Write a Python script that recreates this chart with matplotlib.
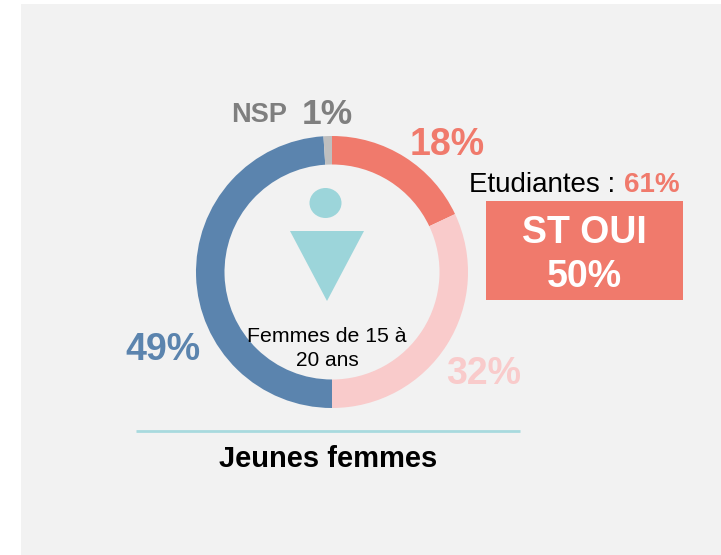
import matplotlib
matplotlib.use("Agg")
import matplotlib.pyplot as plt
from matplotlib.patches import Ellipse, Polygon, Rectangle

plt.rcParams['font.family'] = ['Liberation Sans', 'DejaVu Sans']

# Data
labels = ["18%", "32%", "49%", "1%"]
values = [18, 32, 49, 1]
colors = ["#F07A6C", "#F9CBCB", "#5B84AE", "#BFBFBF"]

RED = "#F07A6C"
TEAL = "#9CD5DA"
BG = "#F2F2F2"

fig = plt.figure(figsize=(7.21, 5.55), dpi=100)
# Axes in pixel coordinates of the picture
ax = fig.add_axes([0, 0, 1, 1])

ax.add_patch(Rectangle((21, 4), 700, 551, color=BG, lw=0, zorder=0))

# Donut (y axis is inverted, so counterclock here reads clockwise on screen)
ax.pie(values, colors=colors, startangle=-90, counterclock=True, radius=136,
       center=(332, 272), wedgeprops=dict(width=28.5, linewidth=0))
ax.set_xlim(0, 721)
ax.set_ylim(555, 0)
ax.set_aspect('auto')
ax.axis('off')

# Figure icon in the middle
ax.add_patch(Ellipse((325.5, 203), 32, 30, color=TEAL, lw=0))
ax.add_patch(Polygon([(290, 231), (364, 231), (327, 301)], color=TEAL, lw=0))

# Value labels
ax.text(447, 145, labels[0], color=RED, fontsize=27, fontweight='bold', ha='center', va='center')
ax.text(484, 374, labels[1], color=colors[1], fontsize=27, fontweight='bold', ha='center', va='center')
ax.text(163, 350, labels[2], color=colors[2], fontsize=27, fontweight='bold', ha='center', va='center')
ax.text(327, 114, labels[3], color="#7F7F7F", fontsize=25.5, fontweight='bold', ha='center', va='center')
ax.text(259, 115, "NSP", color="#7F7F7F", fontsize=19.5, fontweight='bold', ha='center', va='center')

# Centre text
ax.text(327, 337, "Femmes de 15 à", color="black", fontsize=15.3, ha='center', va='center')
ax.text(327, 361, "20 ans", color="black", fontsize=15, ha='center', va='center')

# Right-hand box
ax.text(469, 185, "Etudiantes :", color="black", fontsize=20, ha='left', va='center')
ax.text(624, 185, "61%", color=RED, fontsize=20, fontweight='bold', ha='left', va='center')
ax.add_patch(Rectangle((486, 201), 197, 99, color=RED, lw=0))
ax.text(584.5, 233, "ST OUI", color="white", fontsize=27, fontweight='bold', ha='center', va='center')
ax.text(584.5, 277, "50%", color="white", fontsize=27, fontweight='bold', ha='center', va='center')

# Bottom line and title
ax.plot([136, 520], [430.5, 430.5], color="#A8DADE", lw=2, solid_capstyle='butt')
ax.text(328, 459, "Jeunes femmes", color="black", fontsize=21, fontweight='bold', ha='center', va='center')

fig.savefig("out.png", dpi=100)
